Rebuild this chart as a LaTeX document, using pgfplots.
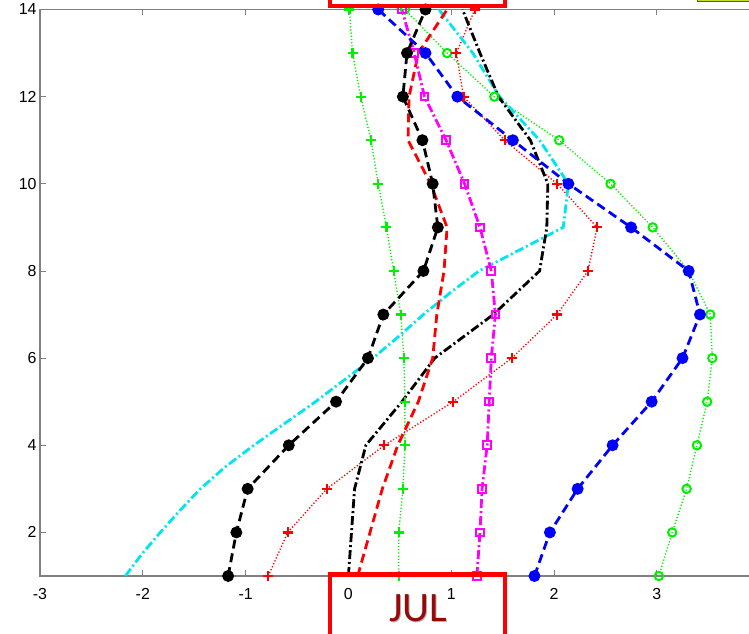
\documentclass[border=0pt]{standalone}
\usepackage{fontspec}
\setmainfont{Liberation Sans}
\newfontfamily\julfont{Carlito}
\usepackage{pgfplots}
\pgfplotsset{compat=1.18}
\definecolor{mgreen}{RGB}{0,240,0}
\definecolor{mcyan}{RGB}{0,230,240}
\definecolor{mmag}{RGB}{255,0,255}
\definecolor{julred}{RGB}{150,10,10}
\begin{document}
\begin{tikzpicture}
\useasboundingbox (-40bp,-58bp) rectangle (709bp,576bp);
\clip (-40bp,-58bp) rectangle (709bp,576bp);
\begin{axis}[
  at={(0bp,0bp)}, anchor=south west,
  scale only axis, width=719.6bp, height=566.5bp,
  xmin=-3, xmax=4, ymin=1, ymax=14,
  xtick={-3,...,3}, ytick={2,4,...,14},
  axis line style={draw=gray, line width=1.2bp},
  major tick style={draw=gray, line width=0.8bp},
  major tick length=6bp,
  tick align=inside,
  /pgf/number format/assume math mode=true,
  tick label style={font=\fontsize{16}{18}\selectfont, black},
  xticklabel style={yshift=-9bp},
  clip=false,
]
% green dotted +
\addplot[mgreen, line width=1.4bp, dash pattern=on 1.2bp off 2bp, mark=+, mark size=5bp, mark options={solid, line width=2.2bp}]
 coordinates {(0.49,1)(0.49,2)(0.53,3)(0.55,4)(0.55,5)(0.54,6)(0.51,7)(0.44,8)(0.37,9)(0.29,10)(0.22,11)(0.12,12)(0.04,13)(0.01,14)};
% green dotted o
\addplot[mgreen, line width=1.4bp, dash pattern=on 1.2bp off 2bp, mark=o, mark size=4.2bp, mark options={solid, line width=2bp}]
 coordinates {(3.02,1)(3.15,2)(3.29,3)(3.39,4)(3.49,5)(3.54,6)(3.52,7)(3.31,8)(2.96,9)(2.55,10)(2.05,11)(1.42,12)(0.96,13)(0.55,14)};
% red dotted +
\addplot[red, line width=1.4bp, dash pattern=on 1.2bp off 2bp, mark=+, mark size=5bp, mark options={solid, line width=2.2bp}]
 coordinates {(-0.78,1)(-0.59,2)(-0.21,3)(0.35,4)(1.02,5)(1.59,6)(2.03,7)(2.33,8)(2.42,9)(2.03,10)(1.52,11)(1.12,12)(1.05,13)(1.23,14)};
% cyan dash-dot
\addplot[mcyan, line width=2.8bp, dash pattern=on 9bp off 3bp on 2bp off 3bp]
 coordinates {(-2.17,1)(-2.01,1.5)(-1.83,2)(-1.64,2.5)(-1.44,3)(-1.20,3.5)(-0.92,4)(-0.62,4.5)(-0.32,5)(-0.04,5.5)(0.24,6)(0.49,6.5)(0.73,7)(0.99,7.5)(1.27,8)(2.09,9)(2.14,10)(1.86,11)(1.47,12)(1.21,13)(0.88,14)};
% black dash-dot
\addplot[black, line width=2.8bp, dash pattern=on 9bp off 3bp on 2bp off 3bp]
 coordinates {(0.0,1)(0.03,2)(0.06,3)(0.17,4)(0.52,5)(0.84,6)(1.41,7)(1.86,8)(1.93,9)(1.94,10)(1.77,11)(1.46,12)(1.28,13)(1.11,14)};
% red dashed
\addplot[red, line width=2.8bp, dash pattern=on 9bp off 5bp]
 coordinates {(0.09,1)(0.21,2)(0.33,3)(0.48,4)(0.68,5)(0.82,6)(0.86,7)(0.93,8)(0.96,9)(0.80,10)(0.58,11)(0.59,12)(0.68,13)(0.96,14)};
% magenta dash-dot squares
\addplot[mmag, line width=2.8bp, dash pattern=on 9bp off 3bp on 2bp off 3bp, mark=square, mark size=3.8bp, mark options={solid, line width=2bp}]
 coordinates {(1.25,1)(1.28,2)(1.30,3)(1.35,4)(1.37,5)(1.39,6)(1.43,7)(1.39,8)(1.28,9)(1.13,10)(0.95,11)(0.74,12)(0.64,13)(0.52,14)};
% blue dashed filled circles
\addplot[blue, line width=2.8bp, dash pattern=on 9bp off 5bp, mark=*, mark size=4.5bp, mark options={solid}]
 coordinates {(1.81,1)(1.96,2)(2.23,3)(2.57,4)(2.95,5)(3.25,6)(3.42,7)(3.31,8)(2.75,9)(2.14,10)(1.60,11)(1.06,12)(0.75,13)(0.29,14)};
% black dashed filled circles
\addplot[black, line width=2.8bp, dash pattern=on 9bp off 5bp, mark=*, mark size=4.5bp, mark options={solid}]
 coordinates {(-1.17,1)(-1.09,2)(-0.98,3)(-0.58,4)(-0.12,5)(0.19,6)(0.34,7)(0.73,8)(0.87,9)(0.82,10)(0.72,11)(0.53,12)(0.57,13)(0.75,14)};
\end{axis}
% decorations
\filldraw[fill={rgb,255:red,190;green,225;blue,40}, draw={rgb,255:red,85;green,95;blue,30}, line width=1bp] (657bp,574bp) rectangle (730bp,600bp);
\draw[red, line width=4bp] (290bp,640bp) -- (290bp,569.5bp) -- (465bp,569.5bp) -- (465bp,640bp);
\draw[red, line width=4bp] (290bp,-90bp) -- (290bp,1.5bp) -- (465bp,1.5bp) -- (465bp,-90bp);
\node[text=gray!60, font=\julfont\fontsize{42}{44}\selectfont] at (379.5bp,-33.5bp) {JUL};
\node[text=julred, font=\julfont\fontsize{42}{44}\selectfont] at (378bp,-32bp) {JUL};
\end{tikzpicture}
\end{document}
